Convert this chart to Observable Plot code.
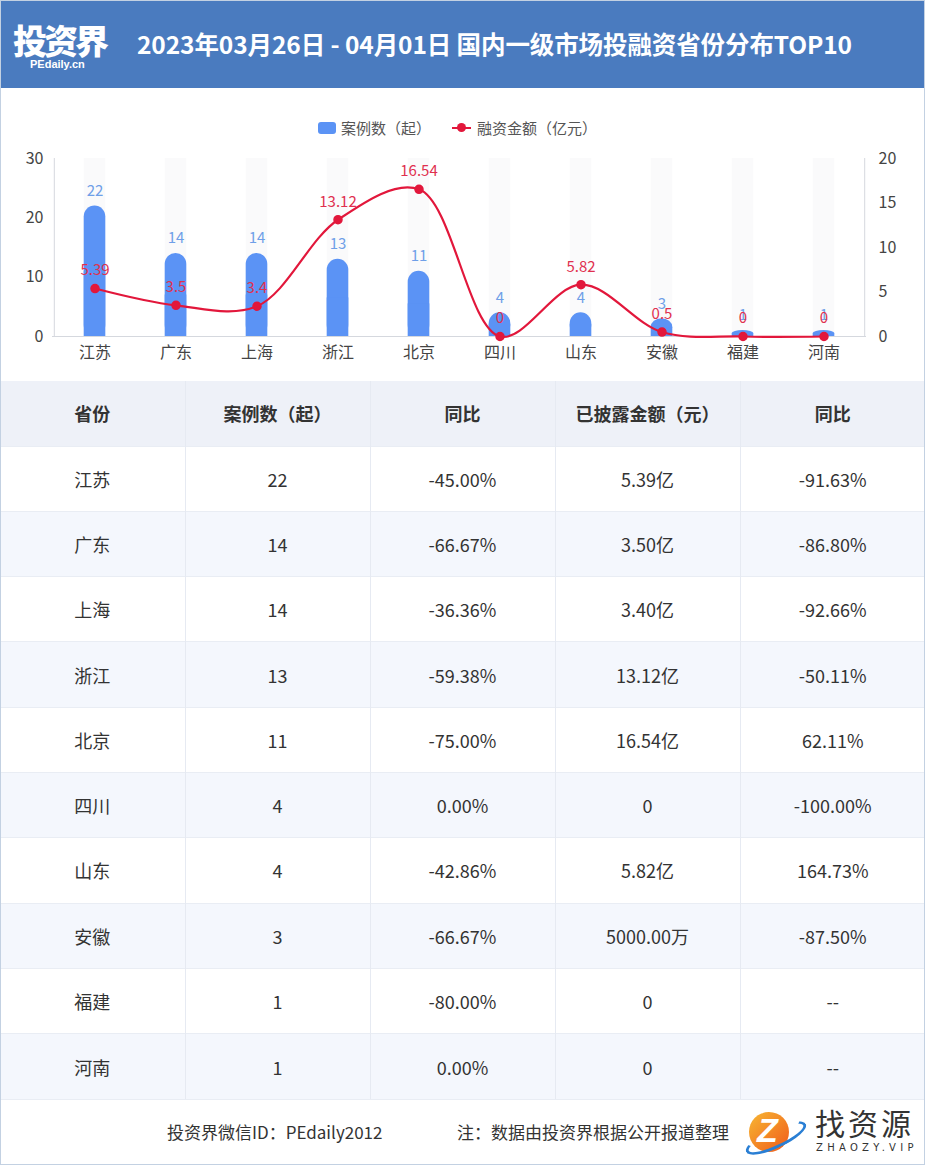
<!DOCTYPE html>
<html><head><meta charset="utf-8">
<script src="https://cdn.jsdelivr.net/npm/d3@7"></script>
<script src="https://cdn.jsdelivr.net/npm/@observablehq/plot@0.6"></script>
<style>
html,body{margin:0;padding:0;background:#fff;}
body{width:925px;height:1165px;position:relative;overflow:hidden;font-family:"Noto Sans CJK SC","Noto Sans",sans-serif;color:#333;}
#frame{position:absolute;left:0;top:0;width:923px;height:1163px;border:1px solid #c3d1e2;pointer-events:none;z-index:5;}
#header{position:absolute;left:0;top:0;width:925px;height:88px;background:#4a7bbf;color:#fff;}
#logo{position:absolute;left:13px;top:23px;font-size:34px;font-weight:900;letter-spacing:-3px;line-height:34px;height:34px;}
#logosub{position:absolute;left:30px;top:58px;font-size:11px;font-weight:700;line-height:12px;font-family:"Liberation Sans",sans-serif;}
#title{position:absolute;left:137px;top:26px;font-size:24.5px;font-weight:700;white-space:nowrap;line-height:36px;letter-spacing:-0.1px;}
#chart{position:absolute;left:0;top:90px;width:925px;height:290px;}
#legend{position:absolute;left:0;top:118px;width:925px;height:20px;font-size:15px;color:#555;}
#table{position:absolute;left:0;top:381px;width:925px;border-collapse:collapse;table-layout:fixed;}
#table td,#table th{height:65.3px;padding:0;text-align:center;font-size:18px;border-left:1px solid #e6eaf2;border-top:1px solid #e9edf4;box-sizing:border-box;}
#table th{font-weight:700;background:#eef1f8;color:#333;height:65px;border-top:none;}
#table td:first-child,#table th:first-child{border-left:none;}
#table tr.alt td{background:#f4f7fd;}
#footer{position:absolute;left:0;top:1099px;width:925px;height:66px;border-top:1px solid #e9edf4;font-size:17px;color:#333;}
</style></head>
<body>
<div id="header"><div id="logo">投资界</div><div id="logosub">PEdaily.cn</div><div id="title">2023年03月26日 - 04月01日 国内一级市场投融资省份分布TOP10</div></div>
<div id="legend"></div>
<div id="chart"></div>
<table id="table"></table>
<div id="footer"></div>
<div id="frame"></div>
<script>
const provinces = ["江苏","广东","上海","浙江","北京","四川","山东","安徽","福建","河南"];
const cases = [22,14,14,13,11,4,4,3,1,1];
const amounts = [5.39,3.5,3.4,13.12,16.54,0,5.82,0.5,0,0];
const casesYoY = ["-45.00%","-66.67%","-36.36%","-59.38%","-75.00%","0.00%","-42.86%","-66.67%","-80.00%","0.00%"];
const disclosed = ["5.39亿","3.50亿","3.40亿","13.12亿","16.54亿","0","5.82亿","5000.00万","0","0"];
const amountYoY = ["-91.63%","-86.80%","-92.66%","-50.11%","62.11%","-100.00%","164.73%","-87.50%","--","--"];
const tableHeaders = ["省份","案例数（起）","同比","已披露金额（元）","同比"];
const leftTicks = [0,10,20,30];
const rightTicks = [0,5,10,15,20];
const seriesNames = ["案例数（起）","融资金额（亿元）"];
const footerLeft = "投资界微信ID：PEdaily2012";
const footerRight = "注：数据由投资界根据公开报道整理";
const watermark = ["找资源","ZHAOZY.VIP"];

const BAR = "#5b93f5", LINE = "#e2173b";
const data = provinces.map((p,i)=>({p, c:cases[i], a:amounts[i]}));
const ratio = 30/20;
const font = '"Noto Sans CJK SC", sans-serif';

const chart = Plot.plot({
  width: 925, height: 290,
  marginTop: 68, marginBottom: 44, marginLeft: 52, marginRight: 59,
  style: {fontFamily: font, fontSize: "15px", color: "#444", background: "transparent", overflow: "visible"},
  x: {domain: provinces, padding: 0, axis: null},
  y: {domain: [0,30], axis: null},
  marks: [
    Plot.barY(data, {x:"p", y1:0, y2:30, fill:"#fafafb", insetLeft:29.7, insetRight:29.7}),
    Plot.ruleX([0], {x: () => provinces[0], y1:0, y2:30, stroke:"#d5d8de", dx:-40.7}),
    Plot.ruleX([0], {x: () => provinces[9], y1:0, y2:30, stroke:"#d5d8de", dx:40.7}),
    Plot.barY(data, {x:"p", y:"c", fill:BAR, rx:11, insetLeft:29.7, insetRight:29.7}),
    Plot.barY(data, {x:"p", y1:0, y2:d=>d.c/2, fill:BAR, insetLeft:29.7, insetRight:29.7}),
    Plot.ruleY([0], {stroke:"#d5d8de"}),
    Plot.axisY(leftTicks, {anchor:"left", tickSize:0, tickPadding:9, fontSize:16, fill:"#444", label:null}),
    Plot.axisY(rightTicks.map(v=>v*ratio), {anchor:"right", tickSize:0, tickPadding:12, fontSize:16, fill:"#444", label:null, tickFormat: d => d/ratio}),
    Plot.axisX({tickSize:0, tickPadding:10, fontSize:16, fill:"#444", label:null}),
    Plot.text(data, {x:"p", y:"c", text:"c", dy:-15, fill:"#6f9fe8", fontSize:15}),
    Plot.line(data, {x:"p", y:d=>d.a*ratio, stroke:LINE, strokeWidth:2.2, curve:"catmull-rom"}),
    Plot.dot(data, {x:"p", y:d=>d.a*ratio, r:4, fill:LINE, stroke:LINE}),
    Plot.text(data, {x:"p", y:d=>d.a*ratio, text:d=>String(d.a), dy:-18, fill:"#e0304f", fontSize:15})
  ]
});
document.getElementById("chart").appendChild(chart);

// legend
const lg = document.getElementById("legend");
lg.innerHTML = `<div style="position:absolute;left:318px;top:4px;width:18px;height:12px;border-radius:3px;background:${BAR}"></div>
<div style="position:absolute;left:341px;top:0;line-height:20px">${seriesNames[0]}</div>
<div style="position:absolute;left:452px;top:9px;width:19px;height:2px;background:${LINE}"></div>
<div style="position:absolute;left:457px;top:5px;width:9px;height:9px;border-radius:50%;background:${LINE}"></div>
<div style="position:absolute;left:477px;top:0;line-height:20px">${seriesNames[1]}</div>`;

// table
const tbl = document.getElementById("table");
let html = "<colgroup>" + tableHeaders.map(()=>'<col style="width:185px">').join("") + "</colgroup>";
html += "<tr>" + tableHeaders.map(h=>`<th>${h}</th>`).join("") + "</tr>";
provinces.forEach((p,i)=>{
  html += `<tr class="${i%2===1?'alt':''}"><td>${p}</td><td>${cases[i]}</td><td>${casesYoY[i]}</td><td>${disclosed[i]}</td><td>${amountYoY[i]}</td></tr>`;
});
tbl.innerHTML = html;

// footer
document.getElementById("footer").innerHTML =
 `<div style="position:absolute;left:167px;top:20px;line-height:24px">${footerLeft}</div>
  <div style="position:absolute;left:457px;top:20px;line-height:24px">${footerRight}</div>
  <div style="position:absolute;left:743px;top:10px;width:60px;height:44px;">
    <div style="position:absolute;left:6px;top:2px;width:40px;height:40px;border-radius:50%;background:linear-gradient(135deg,#f7b733,#f05a1a);"></div>
    <div style="position:absolute;left:0;top:18px;width:60px;height:14px;border-radius:50%;border:3px solid #2a7fd4;border-top-color:transparent;transform:rotate(-25deg);"></div>
    <div style="position:absolute;left:14px;top:0;font:italic 900 34px 'Liberation Sans';color:#fff;line-height:40px;">Z</div>
  </div>
  <div style="position:absolute;left:815px;top:2px;font-size:30px;letter-spacing:3px;color:#333;line-height:40px;">${watermark[0]}</div>
  <div style="position:absolute;left:816px;top:42px;font-size:10px;letter-spacing:4.3px;color:#333;font-family:'DejaVu Sans';">${watermark[1]}</div>`;
</script>
</body></html>
